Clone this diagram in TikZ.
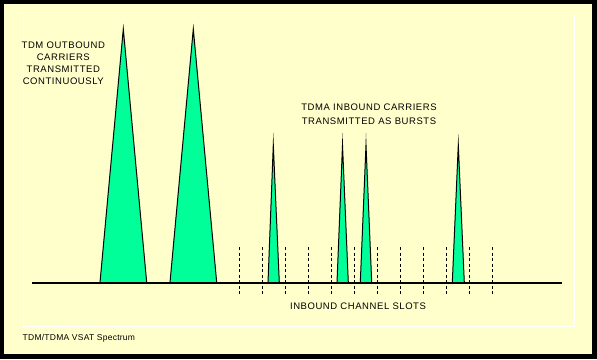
\documentclass[tikz,border=0pt]{standalone}
\usepackage{fontspec}
\newfontfamily\lab[LetterSpace=6]{Liberation Sans}
\newfontfamily\capfont[LetterSpace=3]{Liberation Sans}
\definecolor{cream}{RGB}{255,255,204}
\definecolor{carrier}{RGB}{0,255,153}
\begin{document}
\begin{tikzpicture}[x=1pt,y=-1pt,
  labeltext/.style={inner sep=0pt,anchor=base,font=\lab\fontsize{9.5}{11}\selectfont},
  captext/.style={inner sep=0pt,anchor=base west,font=\capfont\fontsize{8.5}{10}\selectfont},
  peak/.style={fill=carrier,draw=black,line width=1pt,line join=miter,miter limit=40},
  slot/.style={draw=black,line width=1pt,dash pattern=on 3pt off 2.5pt},
  axisline/.style={draw=black,line width=2pt}]
\useasboundingbox (0,0) rectangle (597,359);
\fill[black] (0,0) rectangle (597,359);
\fill[cream] (3.5,3.5) rectangle (592,354);
\draw[white,line width=1pt] (23,15) rectangle (574,326);
% outbound carriers
\path[peak] (100,282.5) -- (123.3,29) -- (146.7,282.5);
\path[peak] (170,282.5) -- (193.3,29) -- (216.7,282.5);
% inbound bursts
\path[peak] (268,282.5) -- (273.3,145) -- (279.3,282.5);
\path[peak] (337,282.5) -- (342.5,145) -- (348.3,282.5);
\path[peak] (360.3,282.5) -- (366,145) -- (371.7,282.5);
\path[peak] (452.3,282.5) -- (458.3,145) -- (464.3,282.5);
% slots
\foreach \i in {0,...,11}{
  \coordinate (s\i a) at ({239.6+23*\i},247);
  \coordinate (s\i b) at ({239.6+23*\i},295);
  \draw[slot] (s\i a) -- (s\i b);
}
% axis
\coordinate (axL) at (32,282.5);
\coordinate (axR) at (562,282.5);
\draw[axisline] (axL) -- (axR);
% labels
\node[labeltext] (o1) at (63.3,48) {TDM OUTBOUND};
\node[labeltext] (o2) at (63.3,60) {CARRIERS};
\node[labeltext] (o3) at (63.3,72.3) {TRANSMITTED};
\node[labeltext] (o4) at (63.3,84.5) {CONTINUOUSLY};
\node[labeltext] (i1) at (369,110.2) {TDMA INBOUND CARRIERS};
\node[labeltext] (i2) at (369,124.2) {TRANSMITTED AS BURSTS};
\node[labeltext] (sl) at (358,309.4) {INBOUND CHANNEL SLOTS};
\node[captext] (cp) at (22.5,340.3) {TDM/TDMA VSAT Spectrum};
\end{tikzpicture}
\end{document}
